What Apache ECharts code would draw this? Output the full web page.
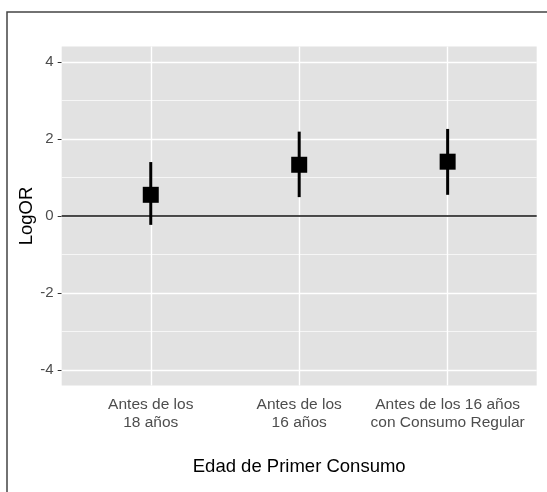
<!DOCTYPE html>
<html>
<head>
<meta charset="utf-8">
<script src="https://cdn.jsdelivr.net/npm/echarts@6/dist/echarts.min.js"></script>
<style>
  html, body { margin: 0; padding: 0; background: #fff; }
  #main { width: 547px; height: 492px; }
</style>
</head>
<body>
<div id="main"></div>
<script>
// datos
const categories = ['Antes de los\n18 años', 'Antes de los\n16 años', 'Antes de los 16 años\ncon Consumo Regular'];
const estimates = [0.55, 1.33, 1.41];
const lower = [-0.23, 0.49, 0.55];
const upper = [1.40, 2.19, 2.26];
const yTicks = [-4, -2, 0, 2, 4];
const yMinor = [-3, -1, 1, 3];
const xPos = categories.map((c, i) => i + 1);

const font = 'Liberation Sans, Arial, sans-serif';

const chart = echarts.init(document.getElementById('main'));

const gridLines = [
  ...yTicks.map(v => ({ yAxis: v, lineStyle: { color: '#fff', width: 1.4, type: 'solid' } })),
  ...yMinor.map(v => ({ yAxis: v, lineStyle: { color: '#fff', width: 0.7, type: 'solid' } })),
  ...xPos.map(v => ({ xAxis: v, lineStyle: { color: '#fff', width: 1.4, type: 'solid' } })),
];

chart.setOption({
  animation: false,
  graphic: [{
    type: 'rect',
    shape: { x: 7, y: 12, width: 600, height: 600 },
    style: { fill: 'none', stroke: '#444', lineWidth: 1.5 },
    silent: true,
    z: 100
  }],
  grid: {
    left: 61.7, right: 10.3, top: 46.5, bottom: 106.5,
    show: true, backgroundColor: '#e2e2e2', borderWidth: 0
  },
  xAxis: {
    type: 'value', min: 0.4, max: 3.6,
    name: 'Edad de Primer Consumo',
    nameLocation: 'middle', nameGap: 72, nameMoveOverlap: false,
    nameTextStyle: { fontFamily: font, fontSize: 18.5, color: '#000' },
    axisLine: { show: false },
    axisTick: { show: true, customValues: xPos, length: 4, lineStyle: { color: '#333', width: 1 } },
    axisLabel: {
      customValues: xPos,
      formatter: v => categories[Math.round(v) - 1] || '',
      fontFamily: font, fontSize: 15.5, color: '#4d4d4d', lineHeight: 18, margin: 10
    },
    splitLine: { show: false }
  },
  yAxis: {
    type: 'value', min: -4.4, max: 4.4,
    name: 'LogOR',
    nameLocation: 'middle', nameGap: 25, nameMoveOverlap: false,
    nameTextStyle: { fontFamily: font, fontSize: 18.5, color: '#000' },
    axisLine: { show: false },
    axisTick: { show: true, customValues: yTicks, length: 4, lineStyle: { color: '#333', width: 1 } },
    axisLabel: {
      customValues: yTicks,
      fontFamily: font, fontSize: 15, color: '#4d4d4d', margin: 8
    },
    splitLine: { show: false }
  },
  series: [
    {
      type: 'line', data: [], silent: true, z: 1,
      markLine: { z: 1, silent: true, symbol: 'none', label: { show: false }, animation: false, data: gridLines }
    },
    {
      type: 'line', data: [], silent: true, z: 2,
      markLine: {
        z: 2, silent: true, symbol: 'none', label: { show: false }, animation: false,
        data: [{ yAxis: 0, lineStyle: { color: '#111', width: 1.6, type: 'solid' } }]
      }
    },
    {
      type: 'custom', z: 6, silent: true,
      data: xPos.map((x, i) => [x, lower[i], upper[i]]),
      renderItem: (params, api) => {
        const x = api.value(0);
        const p1 = api.coord([x, api.value(1)]);
        const p2 = api.coord([x, api.value(2)]);
        return {
          type: 'line',
          shape: { x1: p1[0], y1: p1[1], x2: p2[0], y2: p2[1] },
          style: { stroke: '#000', lineWidth: 3 }
        };
      }
    },
    {
      type: 'scatter', z: 7, silent: true,
      symbol: 'rect', symbolSize: 16,
      itemStyle: { color: '#000', opacity: 1 },
      data: xPos.map((x, i) => [x, estimates[i]])
    }
  ]
});
</script>
</body>
</html>
